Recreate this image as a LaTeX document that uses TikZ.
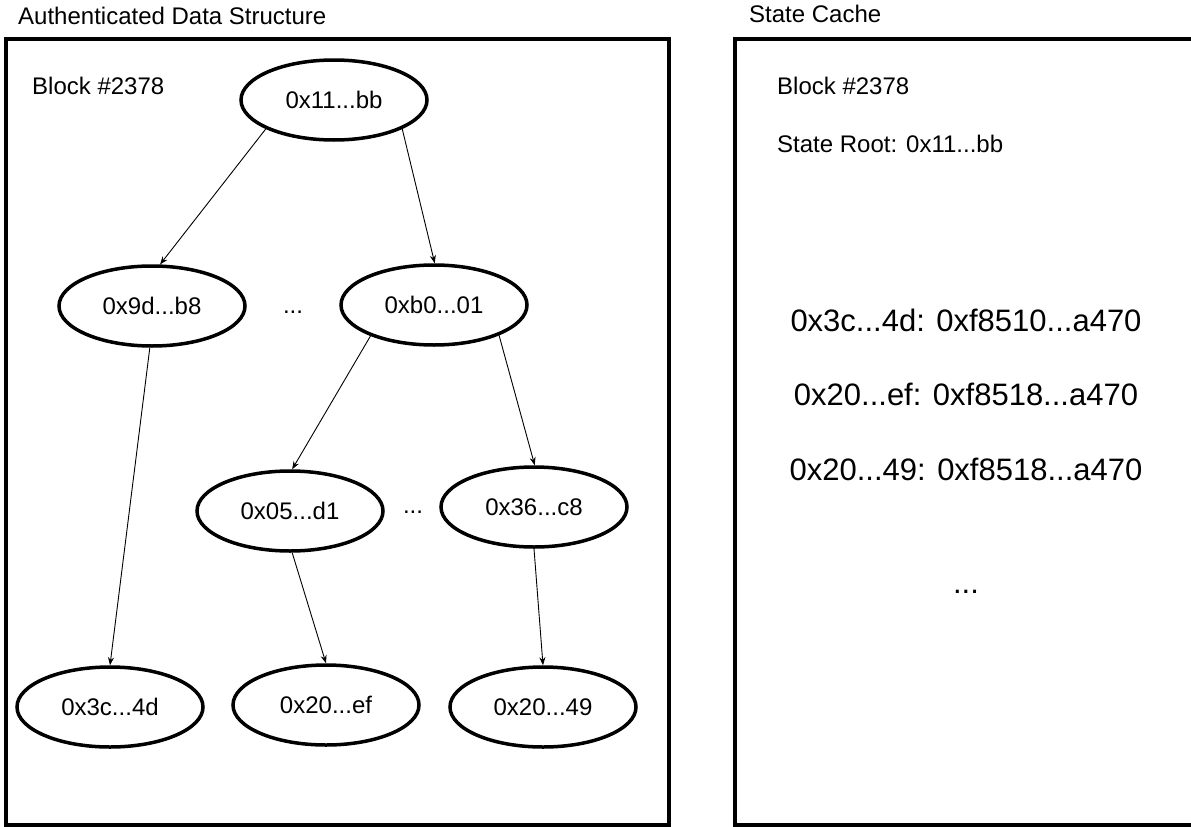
\documentclass[tikz,border=0pt]{standalone}
\usepackage{fontspec}
\setmainfont{Liberation Sans}
\usetikzlibrary{shapes.geometric,arrows.meta}

\begin{document}
\begin{tikzpicture}[x=1pt,y=-1pt,
  hash/.style={ellipse,draw,line width=3.5pt,minimum width=186pt,minimum height=80pt,
    inner sep=0pt,font=\fontsize{24}{28}\selectfont},
  link/.style={line width=0.9pt,-{Stealth[length=8pt,width=6pt]}},
  lbl/.style={font=\fontsize{24}{28}\selectfont,inner sep=0pt,anchor=base west},
  gap/.style={font=\fontsize{24}{28}\selectfont,inner sep=0pt,anchor=base},
  entry/.style={font=\fontsize{31}{36}\selectfont,inner sep=0pt,anchor=base},
  frame/.style={line width=3.5pt}]
\clip (0,0) rectangle (1191,827);
\fill[white] (0,0) rectangle (1191,827);

% panel frames
\draw[frame] (6,39) rectangle (669,825);
\draw[frame] (735,39) rectangle (1260,825);

% panel titles
\node[lbl] (adstitle) at (18,24) {Authenticated Data Structure};
\node[lbl] (cachetitle) at (749,23) {State Cache};

% left panel: Merkle tree
\node[lbl] (blkleft) at (32,94) {Block \#2378};

\node[hash] (root) at (334,100) {0x11...bb};
\node[hash] (n9d) at (152,306) {0x9d...b8};
\node[hash] (nb0) at (434,305) {0xb0...01};
\node[hash] (n05) at (290,511) {0x05...d1};
\node[hash] (n36) at (534,507) {0x36...c8};
\node[hash] (n3c) at (110,707) {0x3c...4d};
\node[hash] (n20ef) at (326,705) {0x20...ef};
\node[hash] (n2049) at (543,707) {0x20...49};

\node[gap] (dotsA) at (293,313) {...};
\node[gap] (dotsB) at (413,513) {...};

\draw[link] (root.203) -- (n9d.79);
\draw[link] (root.337) -- (nb0.89);
\draw[link] (n9d.267) -- (n3c.90);
\draw[link] (nb0.206) -- (n05.87);
\draw[link] (nb0.335) -- (n36.89);
\draw[link] (n05.273) -- (n20ef.90);
\draw[link] (n36.270) -- (n2049.90);

% right panel: cached state
\node[lbl] (blkright) at (777,94) {Block \#2378};
\node[lbl] (stateroot) at (777,152) {State Root: 0x11...bb};

\node[entry] (e1) at (966,331) {0x3c...4d: 0xf8510...a470};
\node[entry] (e2) at (966,405) {0x20...ef: 0xf8518...a470};
\node[entry] (e3) at (966,480) {0x20...49: 0xf8518...a470};
\node[entry] (emore) at (966,593) {...};
\end{tikzpicture}
\end{document}
